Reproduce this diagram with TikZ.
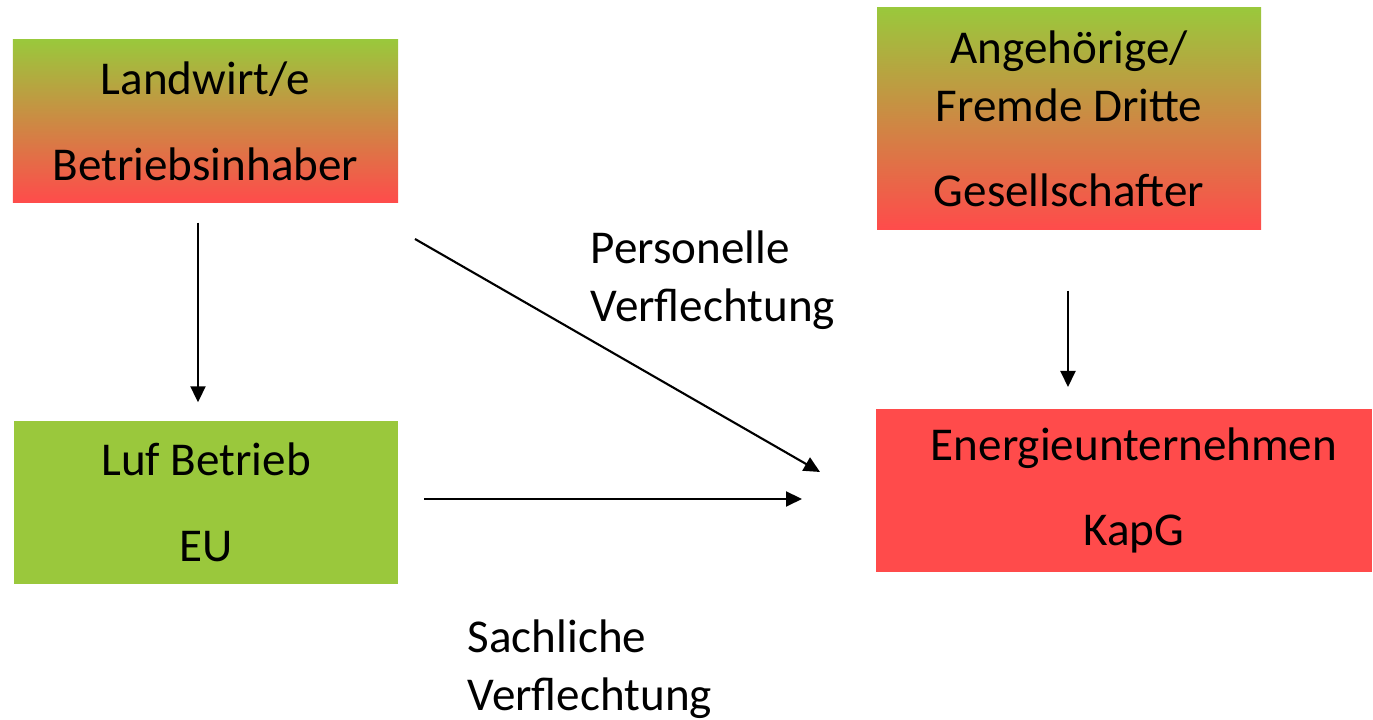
\documentclass[tikz,border=0pt]{standalone}
\usepackage{fontspec}
\setmainfont{Carlito}
\usetikzlibrary{arrows.meta}
\definecolor{boxgreen}{RGB}{154,200,60}
\definecolor{boxred}{RGB}{255,75,75}

\begin{document}
\begin{tikzpicture}[
  every node/.style={font=\fontsize{13.4}{16}\selectfont},
  mixbox/.style={top color=boxgreen,bottom color=boxred,minimum width=3.85cm,align=center,inner sep=0pt},
  greenbox/.style={fill=boxgreen,minimum width=3.84cm,minimum height=1.63cm,align=center,inner sep=0pt},
  redbox/.style={fill=boxred,minimum width=4.96cm,minimum height=1.63cm,align=center,inner sep=0pt},
  label/.style={anchor=west,align=left,inner sep=0pt,font=\fontsize{13.4}{16.5}\selectfont},
  link/.style={-{Triangle[length=0.16cm,width=0.15cm]},line width=0.6pt}]
\useasboundingbox (0,0) rectangle (13.73,-7.20);
% boxes
\node[mixbox,minimum height=1.63cm] (landwirt) at (2.055,-1.215) {Landwirt/e\\[8.4pt]Betriebsinhaber};
\node[mixbox,minimum width=3.84cm,minimum height=2.22cm] (angeh) at (10.69,-1.19) {Angehörige/\\[0.4pt]Fremde Dritte\\[8.4pt]Gesellschafter};
\node[greenbox] (luf) at (2.06,-5.025) {Luf Betrieb\\[8.4pt]EU};
\node[redbox] (energie) at (11.24,-4.905) {\hspace*{0.2cm}Energieunternehmen\\[8.4pt]\hspace*{0.2cm}KapG};
% labels
\node[label] (personell) at (5.9,-2.80) {Personelle\\Verflechtung};
\node[label] (sachlich) at (4.67,-6.69) {Sachliche\\Verflechtung};
% arrows
\coordinate (pstart) at (4.15,-2.39);
\coordinate (pend) at (8.20,-4.72);
\coordinate (sstart) at (4.24,-4.99);
\coordinate (send) at (8.02,-4.99);
\coordinate (gend) at (10.68,-3.87);
\draw[link,shorten <=0.19cm,shorten >=0.18cm] (landwirt.south -| 1.98,0) -- (luf.north -| 1.98,0);
\draw[link] (pstart) -- (pend);
\draw[link] (sstart) -- (send);
\draw[link,shorten <=0.6cm] (angeh.south -| gend) -- (gend);
\end{tikzpicture}
\end{document}
